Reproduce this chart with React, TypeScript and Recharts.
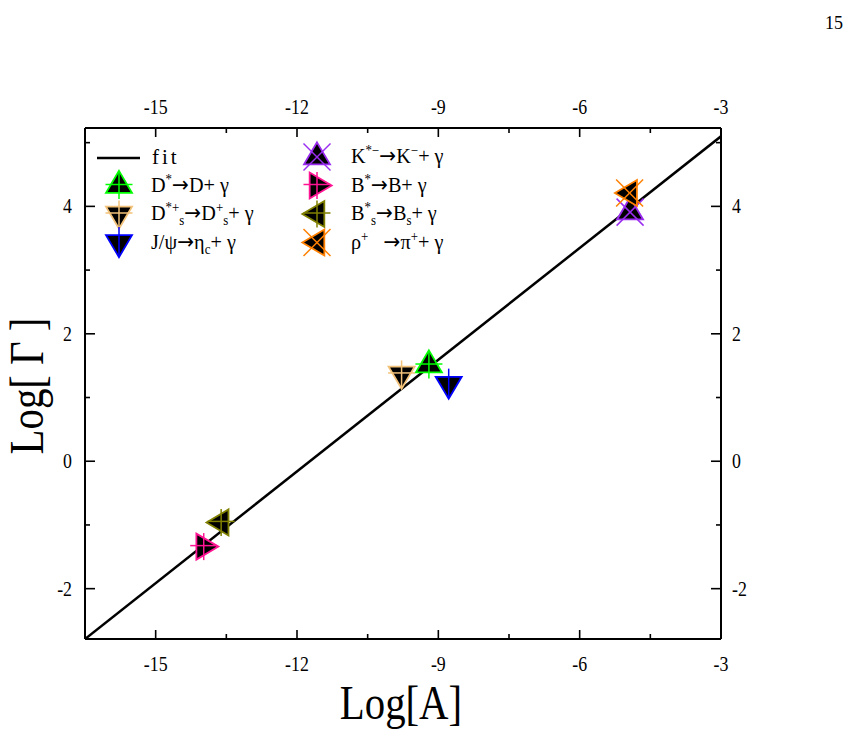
import React from 'react';
import { ScatterChart, Scatter, XAxis, YAxis, Legend } from 'recharts';

// ---- axes ----
const xDomain: [number, number] = [-16.5, -3];
const yDomain: [number, number] = [-2.79, 5.23];
const xTicks = [-15, -13.5, -12, -10.5, -9, -7.5, -6, -4.5, -3];
const xTickLabels = [-15, -12, -9, -6, -3];
const yTicks = [-2, -1, 0, 1, 2, 3, 4, 5];
const yTickLabels = [-2, 0, 2, 4];

// ---- linear fit (end points) ----
const fitLogA = [-16.5, -3];
const fitLogGamma = [-2.79, 5.1];

// ---- radiative decays ----
const decayIds = ['Dstar', 'Dsstar', 'Jpsi', 'Kstar', 'Bstar', 'Bsstar', 'rho'];
const decayLogA = [-9.2, -9.78, -8.78, -4.93, -13.98, -13.61, -4.94];
const decayLogGamma = [1.51, 1.37, 1.21, 3.91, -1.34, -0.96, 4.21];

type Seg = [string, ('sup' | 'sub' | 'arrow')?];
const decayLabels: Record<string, Seg[]> = {
  Dstar: [['D'], ['*', 'sup'], ['→', 'arrow'], ['D+ γ']],
  Dsstar: [['D'], ['*+', 'sup'], ['s', 'sub'], ['→', 'arrow'], ['D'], ['+', 'sup'], ['s', 'sub'], ['+ γ']],
  Jpsi: [['J/ψ'], ['→', 'arrow'], ['η'], ['c', 'sub'], ['+ γ']],
  Kstar: [['K'], ['*−', 'sup'], ['→', 'arrow'], ['K'], ['−', 'sup'], ['+ γ']],
  Bstar: [['B'], ['*', 'sup'], ['→', 'arrow'], ['B+ γ']],
  Bsstar: [['B'], ['*', 'sup'], ['s', 'sub'], ['→', 'arrow'], ['B'], ['s', 'sub'], ['+ γ']],
  rho: [['ρ'], ['+', 'sup'], ['   '], ['→', 'arrow'], ['π'], ['+', 'sup'], ['+ γ']],
};
const legendLeftIds = ['Dstar', 'Dsstar', 'Jpsi'];
const legendRightIds = ['Kstar', 'Bstar', 'Bsstar', 'rho'];

// ---- marker styles ----
type Tri = 'up' | 'down' | 'left' | 'right';
type Cross = 'plus' | 'x' | 'vbar';
const markerStyle: Record<string, { color: string; tri: Tri; cross: Cross }> = {
  Dstar: { color: '#00ff00', tri: 'up', cross: 'plus' },
  Dsstar: { color: '#f2c27a', tri: 'down', cross: 'plus' },
  Jpsi: { color: '#0000ff', tri: 'down', cross: 'vbar' },
  Kstar: { color: '#9a2cf0', tri: 'up', cross: 'x' },
  Bstar: { color: '#ff1493', tri: 'right', cross: 'plus' },
  Bsstar: { color: '#808000', tri: 'left', cross: 'plus' },
  rho: { color: '#ff8000', tri: 'left', cross: 'x' },
};

const SERIF = '"Liberation Serif", "DejaVu Serif", serif';

function Marker({ cx, cy, id }: { cx: number; cy: number; id: string }) {
  const { color, tri, cross } = markerStyle[id];
  const s = 13;
  const h = 22;
  let pts: number[][];
  switch (tri) {
    case 'up':
      pts = [[cx, cy - (2 * h) / 3], [cx + s, cy + h / 3], [cx - s, cy + h / 3]];
      break;
    case 'down':
      pts = [[cx - s, cy - h / 3], [cx + s, cy - h / 3], [cx, cy + (2 * h) / 3]];
      break;
    case 'left':
      pts = [[cx - (2 * h) / 3, cy], [cx + h / 3, cy - s], [cx + h / 3, cy + s]];
      break;
    default:
      pts = [[cx + (2 * h) / 3, cy], [cx - h / 3, cy - s], [cx - h / 3, cy + s]];
  }
  const c = 13.5;
  return (
    <g>
      <polygon points={pts.map((p) => p.join(',')).join(' ')} fill="#000" stroke={color} strokeWidth={1.8} />
      {cross === 'plus' && (
        <g stroke={color} strokeWidth={1.5}>
          <line x1={cx - c} x2={cx + c} y1={cy - 1} y2={cy - 1} />
          <line x1={cx} x2={cx} y1={cy - c} y2={cy + c} />
        </g>
      )}
      {cross === 'vbar' && <line x1={cx} x2={cx} y1={cy - c - 2} y2={cy + c} stroke={color} strokeWidth={1.5} />}
      {cross === 'x' && (
        <g stroke={color} strokeWidth={1.5}>
          <line x1={cx - c} x2={cx + c} y1={cy - c} y2={cy + c} />
          <line x1={cx - c} x2={cx + c} y1={cy + c} y2={cy - c} />
        </g>
      )}
    </g>
  );
}

function RichLabel({ x, y, segs }: { x: number; y: number; segs: Seg[] }) {
  return (
    <text
      transform={`translate(${x} ${y}) scale(0.92 1)`}
      fontFamily={SERIF}
      fontSize={22}
      fill="#000"
      style={{ whiteSpace: 'pre' }}
    >
      {segs.map(([t, kind], i) => (
        <tspan
          key={i}
          y={kind === 'sup' ? -8 : kind === 'sub' ? 5 : 0}
          fontSize={kind === 'sup' || kind === 'sub' ? 14 : 22}
          fontFamily={kind === 'arrow' ? '"DejaVu Sans", sans-serif' : undefined}
        >
          {t}
        </tspan>
      ))}
    </text>
  );
}

const renderLegend = () => {
  const rowY = (i: number) => 27 + 28.5 * i;
  return (
    <svg width={420} height={140} style={{ overflow: 'visible', display: 'block' }}>
      <line x1={12} x2={55} y1={rowY(0) + 1} y2={rowY(0) + 1} stroke="#000" strokeWidth={2.5} />
      <text x={67} y={rowY(0) + 7} fontFamily={SERIF} fontSize={21} letterSpacing={3}>fit</text>
      {legendLeftIds.map((id, i) => (
        <g key={id}>
          <Marker cx={34} cy={rowY(i + 1)} id={id} />
          <RichLabel x={66} y={rowY(i + 1) + 6} segs={decayLabels[id]} />
        </g>
      ))}
      {legendRightIds.map((id, i) => (
        <g key={id}>
          <Marker cx={232} cy={rowY(i)} id={id} />
          <RichLabel x={266} y={rowY(i) + 6} segs={decayLabels[id]} />
        </g>
      ))}
    </svg>
  );
};

const fmt = (v: number) => String(v);

// Tall, narrow tick numerals
function TickText({ x, y, anchor, children }: { x: number; y: number; anchor: 'start' | 'middle' | 'end'; children: React.ReactNode }) {
  return (
    <text
      transform={`translate(${x} ${y}) scale(0.85 1)`}
      textAnchor={anchor}
      fontFamily={SERIF}
      fontSize={21}
      fill="#000"
    >
      {children}
    </text>
  );
}

const makeXTick = (side: 'bottom' | 'top') => (props: any) => {
  const { x, y, payload } = props;
  const v = payload.value as number;
  const major = xTickLabels.includes(v);
  const len = major ? 9 : 5;
  const dir = side === 'bottom' ? -1 : 1;
  return (
    <g>
      <line x1={x} x2={x} y1={y} y2={y + dir * len} stroke="#000" strokeWidth={1.6} />
      {major && (
        <TickText x={x} y={side === 'bottom' ? y + 32 : y - 14} anchor="middle">
          {fmt(v)}
        </TickText>
      )}
    </g>
  );
};

const makeYTick = (side: 'left' | 'right') => (props: any) => {
  const { x, y, payload } = props;
  const v = payload.value as number;
  const major = yTickLabels.includes(v);
  const len = major ? 10 : 5;
  const dir = side === 'left' ? 1 : -1;
  return (
    <g>
      <line x1={x} x2={x + dir * len} y1={y} y2={y} stroke="#000" strokeWidth={1.6} />
      {major && (
        <TickText x={side === 'left' ? x - 13 : x + 11} y={y + 7} anchor={side === 'left' ? 'end' : 'start'}>
          {fmt(v)}
        </TickText>
      )}
    </g>
  );
};

const axisLine = { stroke: '#000', strokeWidth: 2 };

export default function App() {
  const fitData = fitLogA.map((x, i) => ({ x, y: fitLogGamma[i] }));
  return (
    <div style={{ position: 'absolute', left: 0, top: 0, width: 850, height: 731, background: '#fff' }}>
      <ScatterChart width={850} height={731} margin={{ top: 127, right: 128, bottom: 91, left: 84 }}>
        <XAxis
          xAxisId="bottom"
          type="number"
          dataKey="x"
          domain={xDomain}
          allowDataOverflow
          ticks={xTicks}
          interval={0}
          height={1}
          tickSize={0}
          tickMargin={0}
          tickLine={false}
          axisLine={axisLine}
          tick={makeXTick('bottom')}
        />
        <XAxis
          xAxisId="top"
          orientation="top"
          type="number"
          dataKey="x"
          domain={xDomain}
          allowDataOverflow
          ticks={xTicks}
          interval={0}
          height={1}
          tickSize={0}
          tickMargin={0}
          tickLine={false}
          axisLine={axisLine}
          tick={makeXTick('top')}
        />
        <YAxis
          yAxisId="left"
          type="number"
          dataKey="y"
          domain={yDomain}
          allowDataOverflow
          ticks={yTicks}
          interval={0}
          width={1}
          tickSize={0}
          tickMargin={0}
          tickLine={false}
          axisLine={axisLine}
          tick={makeYTick('left')}
        />
        <YAxis
          yAxisId="right"
          orientation="right"
          type="number"
          dataKey="y"
          domain={yDomain}
          allowDataOverflow
          ticks={yTicks}
          interval={0}
          width={1}
          tickSize={0}
          tickMargin={0}
          tickLine={false}
          axisLine={axisLine}
          tick={makeYTick('right')}
        />
        <Scatter
          name="fit"
          data={fitData}
          xAxisId="top"
          yAxisId="right"
          line={{ stroke: '#000', strokeWidth: 2.5 }}
          shape={() => <g />}
          isAnimationActive={false}
        />
        {decayIds.map((id, i) => (
          <Scatter
            key={id}
            name={id}
            data={[{ x: decayLogA[i], y: decayLogGamma[i] }]}
            xAxisId="bottom"
            yAxisId="left"
            shape={(p: any) => <Marker cx={p.cx} cy={p.cy} id={id} />}
            isAnimationActive={false}
          />
        ))}
        <Legend
          layout="horizontal"
          verticalAlign="middle"
          align="center"
          content={renderLegend}
          wrapperStyle={{ position: 'absolute', left: 85, top: 130, width: 420, height: 140 }}
        />
      </ScatterChart>
      <svg
        width={850}
        height={731}
        style={{ position: 'absolute', left: 0, top: 0, pointerEvents: 'none' }}
      >
        <text x={834} y={29} textAnchor="middle" fontFamily={SERIF} fontSize={18}>15</text>
        <text
          transform="translate(401 719) scale(0.85 1)"
          textAnchor="middle"
          fontFamily={SERIF}
          fontSize={48}
        >
          Log[A]
        </text>
        <text
          transform="translate(43 386) rotate(-90) scale(0.85 1)"
          textAnchor="middle"
          fontFamily={SERIF}
          fontSize={48}
          style={{ whiteSpace: 'pre' }}
        >
          Log[ Γ ]
        </text>
      </svg>
    </div>
  );
}
